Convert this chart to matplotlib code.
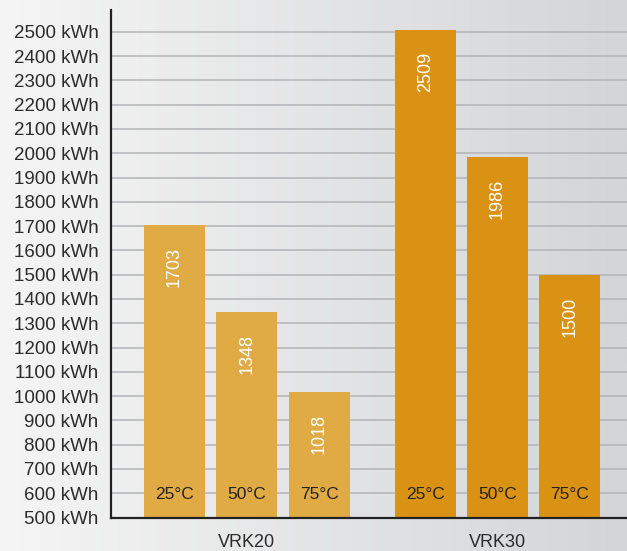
import numpy as np
import matplotlib
matplotlib.use('Agg')
import matplotlib.pyplot as plt
from matplotlib.colors import LinearSegmentedColormap

plt.rcParams['font.family'] = ['Liberation Sans', 'DejaVu Sans']

# Data
groups = ['VRK20', 'VRK30']
temps = ['25°C', '50°C', '75°C']
vrk20_values = [1703, 1348, 1018]
vrk30_values = [2509, 1986, 1500]
yticks = list(range(500, 2600, 100))
ytick_labels = [f'{v} kWh' for v in yticks]

group_colors = ['#e0aa45', '#d99214']
group_centers = [1.0, 4.47]
bar_width = 0.845

fig = plt.figure(figsize=(6.27, 5.51), dpi=100)

# background gradient, light on the left, greyer on the right
bg = fig.add_axes([0, 0, 1, 1])
grad = np.linspace(0, 1, 256).reshape(1, -1)
cmap = LinearSegmentedColormap.from_list('bg', ['#f5f5f5', '#d4d5d7'])
bg.imshow(grad, aspect='auto', cmap=cmap, extent=[0, 1, 0, 1])
bg.set_axis_off()

ax = fig.add_axes([111 / 627, 33.5 / 551, 516 / 627, 507.5 / 551])
ax.set_facecolor('none')

for g, values in enumerate([vrk20_values, vrk30_values]):
    xs = [group_centers[g] + i - 1 for i in range(len(values))]
    ax.bar(xs, values, width=bar_width, bottom=0, color=group_colors[g], zorder=2)
    for x, v, t in zip(xs, values, temps):
        ax.annotate(str(v), (x, v), xytext=(0, -22), textcoords='offset pixels',
                    rotation=90, ha='center', va='top', color='white', fontsize=13, zorder=3)
        ax.annotate(t, (x, 500), xytext=(0, 23), textcoords='offset pixels',
                    ha='center', va='center', color='#222222', fontsize=12.5, zorder=3)

ax.set_ylim(500, 2590)
ax.set_xlim(-0.878, 6.26)
ax.set_yticks(yticks, ytick_labels)
ax.set_xticks(group_centers, groups)
ax.yaxis.grid(True, color='#b3b4b7', linewidth=1.1, zorder=0)
ax.set_axisbelow(True)

ax.tick_params(axis='y', length=0, pad=9, labelsize=13.5, labelcolor='#2b2b2b')
ax.tick_params(axis='x', length=0, pad=12, labelsize=13, labelcolor='#2b2b2b')

for side in ['top', 'right']:
    ax.spines[side].set_visible(False)
for side in ['left', 'bottom']:
    ax.spines[side].set_color('#222222')
    ax.spines[side].set_linewidth(1.6)

fig.savefig('out.png', dpi=100)
